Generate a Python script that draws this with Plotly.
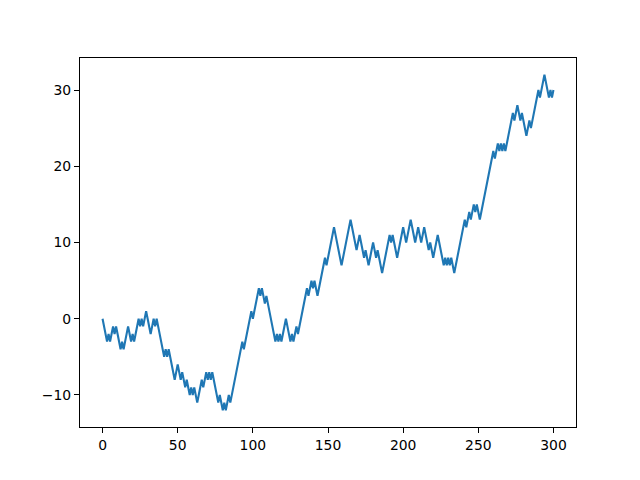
import plotly.graph_objects as go

steps = list(range(301))
walk = [
    0, -1, -2, -3, -2, -3, -2, -1, -2, -1,
    -2, -3, -4, -3, -4, -3, -2, -1, -2, -3,
    -2, -3, -2, -1, 0, -1, 0, -1, 0, 1,
    0, -1, -2, -1, 0, -1, 0, -1, -2, -3,
    -4, -5, -4, -5, -4, -5, -6, -7, -8, -7,
    -6, -7, -8, -7, -8, -9, -8, -9, -10, -9,
    -10, -9, -10, -11, -10, -9, -8, -9, -8, -7,
    -8, -7, -8, -7, -8, -9, -10, -11, -10, -11,
    -12, -11, -12, -11, -10, -11, -10, -9, -8, -7,
    -6, -5, -4, -3, -4, -3, -2, -1, 0, 1,
    0, 1, 2, 3, 4, 3, 4, 3, 2, 3,
    2, 1, 0, -1, -2, -3, -2, -3, -2, -3,
    -2, -1, 0, -1, -2, -3, -2, -3, -2, -1,
    -2, -1, 0, 1, 2, 3, 4, 3, 4, 5,
    4, 5, 4, 3, 4, 5, 6, 7, 8, 7,
    8, 9, 10, 11, 12, 11, 10, 9, 8, 7,
    8, 9, 10, 11, 12, 13, 12, 11, 10, 9,
    10, 11, 10, 9, 8, 9, 8, 7, 8, 9,
    10, 9, 8, 9, 8, 7, 6, 7, 8, 9,
    10, 11, 10, 11, 10, 9, 8, 9, 10, 11,
    12, 11, 10, 11, 12, 13, 12, 11, 10, 11,
    12, 11, 10, 11, 12, 11, 10, 9, 10, 9,
    8, 9, 10, 11, 10, 9, 8, 7, 8, 7,
    8, 7, 8, 7, 6, 7, 8, 9, 10, 11,
    12, 13, 12, 13, 14, 13, 14, 15, 14, 15,
    14, 13, 14, 15, 16, 17, 18, 19, 20, 21,
    22, 21, 22, 23, 22, 23, 22, 23, 22, 23,
    24, 25, 26, 27, 26, 27, 28, 27, 26, 27,
    26, 25, 24, 25, 26, 25, 26, 27, 28, 29,
    30, 29, 30, 31, 32, 31, 30, 29, 30, 29,
    30,
]
x_ticks = [0, 50, 100, 150, 200, 250, 300]
y_ticks = [-10, 0, 10, 20, 30]

fig = go.Figure()
fig.add_trace(go.Scatter(x=steps, y=walk, mode="lines",
                         line=dict(color="#1f77b4", width=2.1)))

axis_common = dict(showline=True, linecolor="black", linewidth=1.1, mirror=True,
                   ticks="outside", ticklen=5, tickwidth=1.1, tickcolor="black",
                   showgrid=False, zeroline=False,
                   tickfont=dict(family="DejaVu Sans", size=13.9, color="black"))
fig.update_xaxes(range=[-15, 315], tickvals=x_ticks, **axis_common)
fig.update_yaxes(range=[-14.2, 34.2], tickvals=y_ticks, **axis_common)

fig.update_layout(width=632, height=472, plot_bgcolor="white", paper_bgcolor="white",
                  margin=dict(l=72, r=64, t=50, b=53), showlegend=False)

fig.write_html("out.html")
